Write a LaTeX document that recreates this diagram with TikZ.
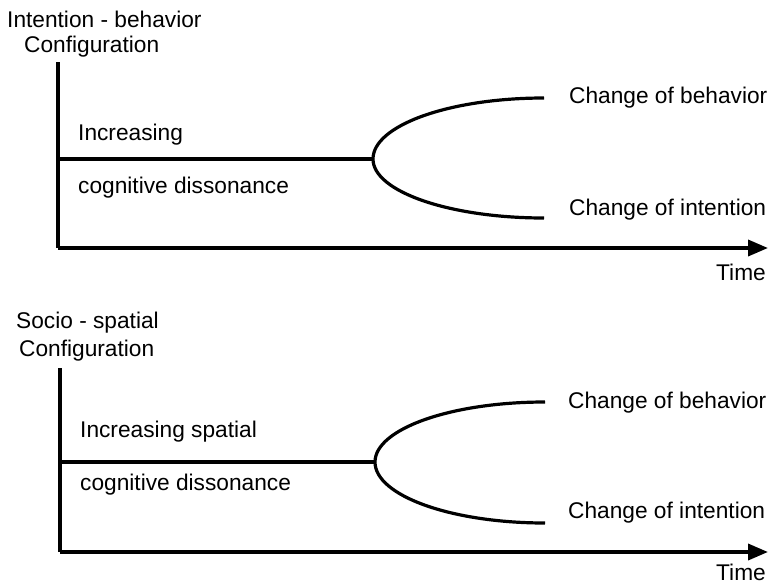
\documentclass[tikz,border=0pt]{standalone}
\usepackage{fontspec}
\setmainfont{Liberation Sans}
\usetikzlibrary{arrows.meta}
\begin{document}
\begin{tikzpicture}[x=1pt,y=-1pt,
  lbl/.style={anchor=base west,inner sep=0pt,font=\fontsize{22.7}{27}\selectfont},
  axisline/.style={line width=3.6pt},
  axisarrow/.style={line width=3.6pt,-{Triangle[length=20pt,width=16pt]}},
  branch/.style={line width=3.2pt}]
\useasboundingbox (0,0) rectangle (769,587);
% ---------- top panel ----------
\node[lbl] (t1) at (7,27) {Intention - behavior};
\node[lbl] (t2) at (24,52) {Configuration};
\coordinate (o1) at (58,248);
\coordinate (v1) at (58,62);
\coordinate (h1) at (768,248);
\coordinate (b1) at (373,159);
\coordinate (m1) at (58,159);
\draw[axisline] (v1) -- (o1);
\draw[axisarrow] (o1) -- (h1);
\draw[branch] (m1) -- (b1);
\draw[branch] (b1) arc[start angle=180,end angle=90,x radius=171pt,y radius=61pt];
\draw[branch] (b1) arc[start angle=180,end angle=270,x radius=171pt,y radius=59pt];
\node[lbl] (i1) at (78,140) {Increasing};
\node[lbl] (c1) at (78,193) {cognitive dissonance};
\node[lbl] (cb1) at (569,103) {Change of behavior};
\node[lbl] (ci1) at (569,215) {Change of intention};
\node[lbl] (tm1) at (716,280) {Time};
% ---------- bottom panel ----------
\node[lbl] (s1) at (16,328) {Socio - spatial};
\node[lbl] (s2) at (19,356) {Configuration};
\coordinate (o2) at (60,552);
\coordinate (v2) at (60,368);
\coordinate (h2) at (768,552);
\coordinate (b2) at (375,462);
\coordinate (m2) at (60,462);
\draw[axisline] (v2) -- (o2);
\draw[axisarrow] (o2) -- (h2);
\draw[branch] (m2) -- (b2);
\draw[branch] (b2) arc[start angle=180,end angle=90,x radius=170pt,y radius=60pt];
\draw[branch] (b2) arc[start angle=180,end angle=270,x radius=170pt,y radius=61pt];
\node[lbl] (i2) at (80,437) {Increasing spatial};
\node[lbl] (c2) at (80,490) {cognitive dissonance};
\node[lbl] (cb2) at (568,408) {Change of behavior};
\node[lbl] (ci2) at (568,518) {Change of intention};
\node[lbl] (tm2) at (716,580) {Time};
\end{tikzpicture}
\end{document}
